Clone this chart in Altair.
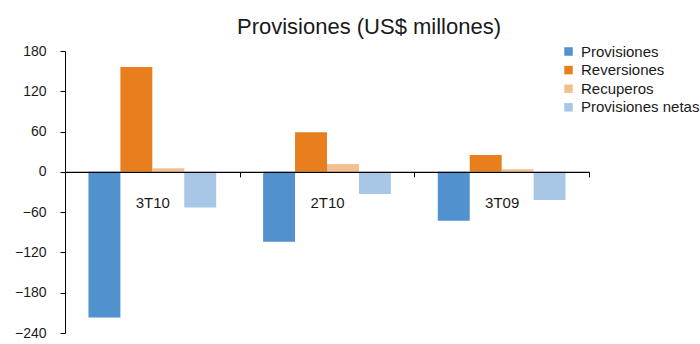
import altair as alt
import pandas as pd

periods = ["3T10", "2T10", "3T09"]
series = ["Provisiones", "Reversiones", "Recuperos", "Provisiones netas"]
provisiones = [-217, -104, -73]
reversiones = [156, 59, 25]
recuperos = [5.5, 11.5, 4]
provisiones_netas = [-53, -33, -42]
colors = ["#5191CE", "#E87E1E", "#F4BF8F", "#A8C7E7"]
y_ticks = [-240, -180, -120, -60, 0, 60, 120, 180]

rows = []
for s, vals in zip(series, [provisiones, reversiones, recuperos, provisiones_netas]):
    for p, v in zip(periods, vals):
        rows.append({"Periodo": p, "Serie": s, "Valor": v})
df = pd.DataFrame(rows)

W, H = 524, 282
zero_px = H * 180 / 420
FONT = "Liberation Sans"

chart = alt.Chart(df).mark_bar().encode(
    x=alt.X(
        "Periodo:N",
        sort=periods,
        scale=alt.Scale(paddingInner=0, paddingOuter=0),
        axis=alt.Axis(
            title=None, orient="bottom", offset=-(H - zero_px), tickBand="extent",
            labelAngle=0, labelFontSize=15, labelColor="#1a1a1a", labelFont=FONT,
            labelPadding=18.5, tickSize=5, tickColor="#000", domainColor="#000",
            domainWidth=1.2, grid=False, zindex=1,
        ),
    ),
    xOffset=alt.XOffset(
        "Serie:N", sort=series,
        scale=alt.Scale(paddingInner=0, paddingOuter=0.734),
    ),
    y=alt.Y(
        "Valor:Q",
        scale=alt.Scale(domain=[-240, 180], nice=False, zero=False),
        axis=alt.Axis(
            title=None, values=y_ticks, labelFontSize=14, labelColor="#1a1a1a",
            labelFont=FONT, labelPadding=14, tickSize=5, tickColor="#000",
            domainColor="#000", grid=False,
        ),
    ),
    color=alt.Color(
        "Serie:N",
        scale=alt.Scale(domain=series, range=colors),
        legend=alt.Legend(
            title=None, orient="none", legendX=496, legendY=-7, padding=0,
            symbolType="square", symbolSize=72, symbolStrokeWidth=0,
            labelFontSize=15, labelFont=FONT, labelColor="#1a1a1a",
            labelOffset=5, rowPadding=2.6,
        ),
    ),
).properties(
    width=W,
    height=H,
    title=alt.TitleParams(
        "Provisiones (US$ millones)", anchor="middle", dx=42, offset=-12,
        baseline="alphabetic", fontSize=22, font=FONT, fontWeight="normal",
        color="#1a1a1a",
    ),
    autosize=alt.AutoSizeParams(type="none"),
    padding={"left": 65, "top": 51, "right": 111, "bottom": 11},
    background="white",
).configure_view(stroke=None)

chart.save("out.html", embed_options={"renderer": "svg", "actions": False})
